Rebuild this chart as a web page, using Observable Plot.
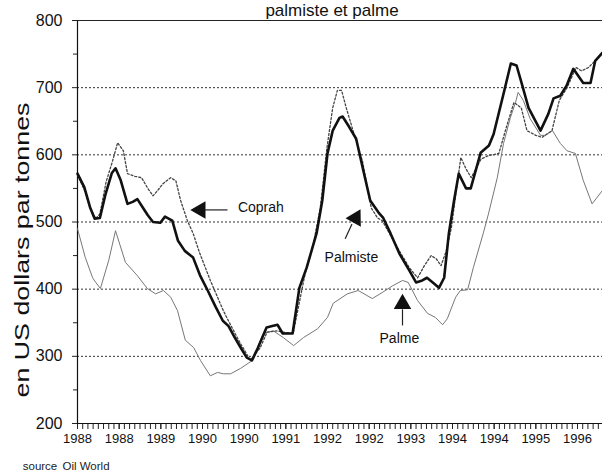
<!DOCTYPE html>
<html><head><meta charset="utf-8">
<script src="https://cdn.jsdelivr.net/npm/d3@7"></script>
<script src="https://cdn.jsdelivr.net/npm/@observablehq/plot@0.6"></script>
<style>
body{margin:0;background:#fff;}
svg{display:block;}
</style>
</head><body><div id="chart"></div>
<script>
// month index since January 1988, price in US$ per tonne
const palmiste = [[0,572],[1.3,552],[2.4,522],[3.3,505],[4.3,506],[5.4,542],[6.6,573],[7.3,580],[8.3,562],[9.6,527],[10.6,530],[11.5,534],[12.5,522],[13.5,510],[14.5,500],[15.9,499],[16.8,508],[18.2,502],[19.3,472],[20.6,457],[22.2,447],[23.5,421],[25,398],[26.5,374],[27.9,353],[29,345],[30.2,328],[31.4,312],[32.5,298],[33.5,294],[34.6,312],[36.3,343],[37.4,345],[38.4,347],[39.4,334],[41.3,334],[42.6,402],[44,432],[45.9,483],[47,532],[48,602],[49,636],[50.3,655],[50.9,657],[52.2,641],[53.5,624],[54.9,576],[56.2,532],[57.8,514],[58.7,506],[60.1,483],[61.8,453],[63.7,428],[65,410],[66.2,413],[67.1,417],[68.5,408],[69.4,402],[70.4,417],[71.3,483],[72.3,532],[73.2,572],[74.6,550],[75.5,550],[77.4,603],[79,614],[79.9,631],[81.8,691],[83.2,736],[84.3,733],[85.3,706],[86.6,670],[88.9,636],[90.4,661],[91.4,684],[92.7,688],[93.9,703],[95.2,728],[97.1,707],[98.5,707],[99.4,740],[100.8,752]];
const coprah = [[0,570],[1.3,548],[2.5,520],[3.5,505],[4.3,512],[5.5,560],[6.7,590],[7.7,618],[8.8,606],[9.6,572],[11,568],[12.3,566],[13.5,550],[14.5,539],[15.5,548],[16.4,557],[17.9,566],[18.9,561],[19.8,532],[21.1,502],[22.2,483],[23.4,455],[25.5,413],[28,368],[29.5,345],[31.3,319],[33.2,294],[35.1,313],[36.4,336],[38.4,338],[39.3,336],[41.4,334],[43.7,423],[45.3,468],[46.6,520],[47.9,611],[49,670],[49.9,696],[50.7,696],[51.6,670],[53.1,631],[54.7,591],[56.4,521],[57.6,506],[58.5,502],[61.8,457],[63.7,432],[65.3,417],[66.6,435],[67.9,450],[68.9,445],[69.8,435],[70.8,457],[71.8,492],[72.6,540],[73.6,596],[74.6,579],[75.6,566],[77.5,594],[79,599],[80.9,602],[82.3,640],[83.8,678],[85.2,670],[86.3,636],[88,629],[89.2,626],[91.1,636],[92.5,681],[94,700],[95.7,730],[96.8,725],[98.1,730],[99.4,740],[100.8,752]];
const palme = [[0,490],[1.5,447],[2.9,417],[3.5,410],[4.4,401],[6,443],[7.3,487],[9.2,440],[11.5,420],[13.4,401],[15,393],[16.5,398],[17.9,388],[19.2,368],[20.7,324],[22.3,313],[23.6,294],[25.5,271],[26.9,276],[28,274],[29.4,274],[31.3,282],[33.6,294],[35.7,334],[37.6,338],[39.5,328],[41.5,316],[43.4,328],[46.1,341],[48,358],[49.1,379],[51.8,393],[53.9,398],[56.6,386],[58.5,395],[60.5,405],[62.4,413],[63.5,410],[65.3,383],[67.2,364],[68.7,358],[70.1,347],[71,356],[72.6,388],[73.5,398],[74.9,399],[76,432],[77.9,483],[78.9,512],[80.6,566],[81.8,617],[83.1,655],[84.1,678],[84.6,693],[85.6,681],[86.9,654],[88.9,629],[89.8,629],[91.2,636],[92.7,617],[94,606],[95.6,602],[97.1,562],[98.8,527],[100.8,547]];

const tickMonths = [0,8,16,24,32,40,48,56,64,72,80,88,96];
const tickLabels = ["1988","1988","1989","1990","1990","1991","1992","1992","1993","1994","1994","1995","1996"];
const yMajor = [200,300,400,500,600,700,800];
const yMinor = [250,350,450,550,650,750];
const gridValues = [300,400,500,600,700];

// annotation labels and arrows (data units)
const labels = [
  {text:"Coprah", m:35.2, v:521},
  {text:"Palmiste", m:52.6, v:447},
  {text:"Palme", m:61.8, v:326}
];
const arrowShafts = [
  {m1:28.8, v1:518, m2:24.5, v2:518},
  {m1:51.4, v1:475, m2:52.7, v2:497},
  {m1:62.4, v1:346, m2:62.4, v2:370}
];
const arrowHeads = [
  {m:23.6, v:518, rot:-90},
  {m:53.4, v:506, rot:29},
  {m:62.4, v:378, rot:0}
];

const toRows = a => a.map(([m, v]) => ({m, v}));
const font = "Liberation Sans, Arial, Helvetica, sans-serif";

const chart = Plot.plot({
  width: 602, height: 473,
  marginLeft: 77, marginRight: 0, marginTop: 20, marginBottom: 50,
  style: {fontFamily: font, background: "white", color: "#111", overflow: "visible"},
  x: {domain: [0, 100.8]},
  y: {domain: [200, 800]},
  marks: [
    Plot.ruleY(gridValues, {stroke: "#333", strokeWidth: 1, strokeDasharray: "2,2"}),
    Plot.ruleY([800], {stroke: "#222", strokeWidth: 1.2}),
    Plot.axisY({ticks: yMinor, tickSize: 4, tickFormat: () => "", label: null, stroke: "#222"}),
    Plot.axisY({ticks: yMajor, tickSize: 5, tickPadding: 10, fontSize: 16, label: null, tickFormat: d => String(d), stroke: "#222", fill: "#111"}),
    Plot.axisX({ticks: d3.range(0, 101), tickSize: 6, tickFormat: () => "", label: null, stroke: "#222"}),
    Plot.axisX({ticks: tickMonths, tickSize: 6, tickPadding: 4, fontSize: 13, label: null, tickFormat: d => tickLabels[tickMonths.indexOf(d)], stroke: "#222", fill: "#111"}),
    Plot.ruleX([0], {stroke: "#111", strokeWidth: 1.2}),
    Plot.ruleY([200], {stroke: "#111", strokeWidth: 1.2}),
    Plot.line(toRows(palme), {x: "m", y: "v", stroke: "#777", strokeWidth: 1}),
    Plot.line(toRows(coprah), {x: "m", y: "v", stroke: "#444", strokeWidth: 1.3, strokeDasharray: "2,2"}),
    Plot.line(toRows(palmiste), {x: "m", y: "v", stroke: "#111", strokeWidth: 2.6, strokeLinejoin: "round"}),
    Plot.link(arrowShafts, {x1: "m1", y1: "v1", x2: "m2", y2: "v2", stroke: "#222", strokeWidth: 1.2}),
    Plot.dot(arrowHeads, {x: "m", y: "v", symbol: "triangle", r: 6.5, fill: "#111", stroke: "none", rotate: "rot"}),
    Plot.text(labels, {x: "m", y: "v", text: "text", textAnchor: "middle", fontSize: 14, fill: "#111"})
  ]
});

const svg = d3.select(chart);
svg.append("text")
  .attr("x", 332).attr("y", 16)
  .attr("text-anchor", "middle")
  .attr("font-family", font).attr("font-size", 17).attr("fill", "#111")
  .text("palmiste et palme");
svg.append("text")
  .attr("transform", "translate(29,250) rotate(-90)")
  .attr("text-anchor", "middle")
  .attr("font-family", font).attr("font-size", 20).attr("fill", "#111")
  .attr("textLength", 295).attr("lengthAdjust", "spacingAndGlyphs")
  .text("en US dollars par tonnes");
svg.append("text")
  .attr("x", 40).attr("y", 470)
  .attr("font-family", font).attr("font-size", 11.5).attr("fill", "#222")
  .text("source");
svg.append("text")
  .attr("x", 86).attr("y", 470)
  .attr("font-family", font).attr("font-size", 11.5).attr("fill", "#222")
  .text("Oil World");

document.getElementById("chart").appendChild(chart);
</script>
</body></html>
